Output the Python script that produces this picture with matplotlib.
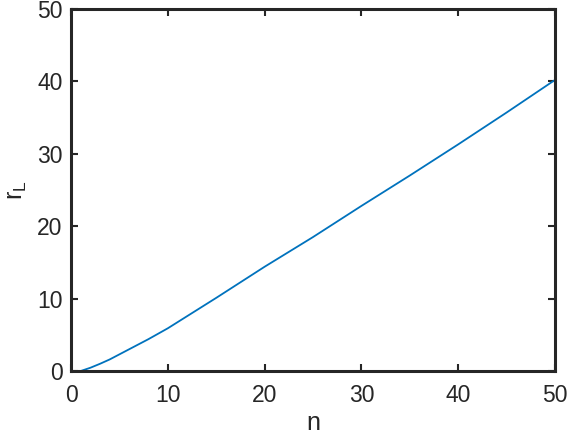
import matplotlib.pyplot as plt
import numpy as np

# valeurs
n = [1, 2, 3, 4, 5, 6, 8, 10, 15, 20, 25, 30, 35, 40, 45, 50]
r_L = [0, 0.45, 1.0, 1.6, 2.3, 3.0, 4.4, 5.9, 10.1, 14.4, 18.5, 22.8, 27.0, 31.3, 35.7, 40.2]
xticks = [0, 10, 20, 30, 40, 50]
yticks = [0, 10, 20, 30, 40, 50]

plt.rcParams['font.family'] = ['Liberation Sans', 'DejaVu Sans']
gris = (0.15, 0.15, 0.15)

fig = plt.figure(figsize=(5.7, 4.4), dpi=100)
ax = fig.add_axes([0.1246, 0.1568, 0.849, 0.8227])
ax.plot(n, r_L, color='#0072BD', linewidth=1.3)
ax.set_xlim(0, 50)
ax.set_ylim(0, 50)
ax.set_xticks(xticks)
ax.set_yticks(yticks)
ax.tick_params(direction='in', length=5, width=1.5, colors=gris, labelsize=16.5,
               top=True, right=True)
ax.tick_params(axis='x', pad=9)
ax.tick_params(axis='y', pad=6)
for s in ax.spines.values():
    s.set_linewidth(2.2)
    s.set_color(gris)
ax.set_xlabel('n', fontsize=18, color=gris, labelpad=3)
ax.set_ylabel('r$_\\mathregular{L}$', fontsize=18, color=gris, labelpad=6)

fig.savefig('out.png', dpi=100)
